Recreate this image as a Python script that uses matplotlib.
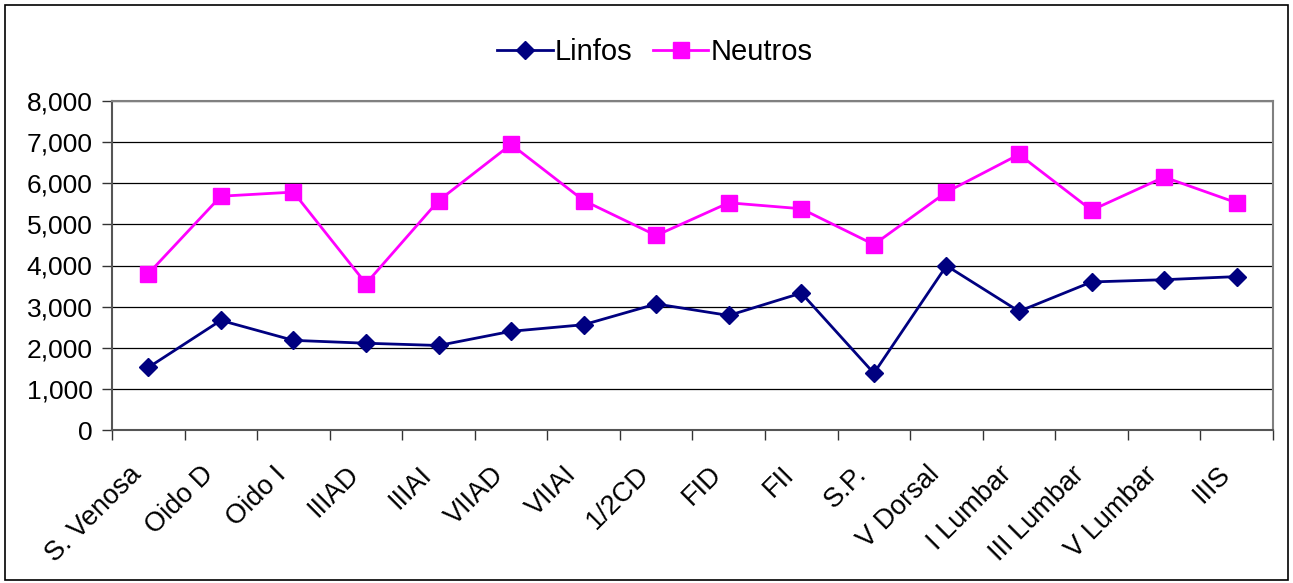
import matplotlib
matplotlib.use("Agg")
import matplotlib.pyplot as plt
from matplotlib.patches import Rectangle
from matplotlib.ticker import FuncFormatter, FixedLocator
from matplotlib.transforms import ScaledTranslation

plt.rcParams['font.family'] = ['Liberation Sans', 'DejaVu Sans']

# Data
categories = ["S. Venosa", "Oido D", "Oido I", "IIIAD", "IIIAI", "VIIAD", "VIIAI",
              "1/2CD", "FID", "FII", "S.P.", "V Dorsal", "I Lumbar", "III Lumbar",
              "V Lumbar", "IIIS"]
linfos = [1520, 2665, 2180, 2110, 2055, 2400, 2560, 3065, 2785, 3330, 1380,
          3995, 2885, 3600, 3655, 3730]
neutros = [3800, 5685, 5785, 3560, 5575, 6945, 5580, 4730, 5525, 5380, 4510,
           5785, 6700, 5345, 6150, 5525]
y_ticks = [0, 1000, 2000, 3000, 4000, 5000, 6000, 7000, 8000]

W, H = 1293, 583
fig = plt.figure(figsize=(W / 100, H / 100), dpi=100)
ax = fig.add_axes([112 / W, 1 - 430 / H, (1273 - 112) / W, (430 - 101) / H])

x = list(range(len(categories)))
ax.plot(x, linfos, color='#000080', lw=2, marker='D', markersize=9,
        label='Linfos', zorder=3, clip_on=False)
ax.plot(x, neutros, color='#FF00FF', lw=2, marker='s', markersize=11,
        label='Neutros', zorder=3, clip_on=False)

ax.set_xlim(-0.5, len(categories) - 0.5)
ax.set_ylim(0, 8000)
ax.set_yticks(y_ticks)
ax.yaxis.set_major_formatter(FuncFormatter(lambda v, p: f"{int(v):,}"))
ax.yaxis.grid(True, color='black', lw=0.9)
ax.set_axisbelow(True)

# ticks at category boundaries, labels at centers
ax.xaxis.set_major_locator(FixedLocator([i - 0.5 for i in range(len(categories) + 1)]))
ax.xaxis.set_major_formatter(FuncFormatter(lambda v, p: ""))
ax.set_xticks(x, minor=True)
ax.set_xticklabels(categories, minor=True, rotation=45, ha='right', va='top',
                   rotation_mode='anchor', fontsize=19.5)
ax.tick_params(axis='x', which='minor', length=0, pad=14)
ax.tick_params(axis='x', which='major', direction='out', length=7, width=1, color='#333333')
ax.tick_params(axis='y', direction='out', length=7, width=1, color='#333333',
               labelsize=19, pad=7)

# nudge rotated labels down-left like the original
shift = ScaledTranslation(-0.20, -0.12, fig.dpi_scale_trans)
for lbl in ax.get_xticklabels(minor=True):
    lbl.set_transform(lbl.get_transform() + shift)

for side in ['top', 'right']:
    ax.spines[side].set_color('#808080')
    ax.spines[side].set_linewidth(1.5)
for side in ['left', 'bottom']:
    ax.spines[side].set_color('#555555')
    ax.spines[side].set_linewidth(1.5)

fig.legend(loc='center', bbox_to_anchor=(0.5065, 1 - 52 / H), ncol=2, frameon=False,
           fontsize=21, handlelength=1.9, handletextpad=0.08, columnspacing=0.7)

# outer chart border
fig.patches.append(Rectangle((5 / W, 3 / H), 1 - 10 / W, 1 - 8 / H, transform=fig.transFigure,
                             fill=False, edgecolor='black', lw=1.2))

fig.savefig("out.png", dpi=100)
